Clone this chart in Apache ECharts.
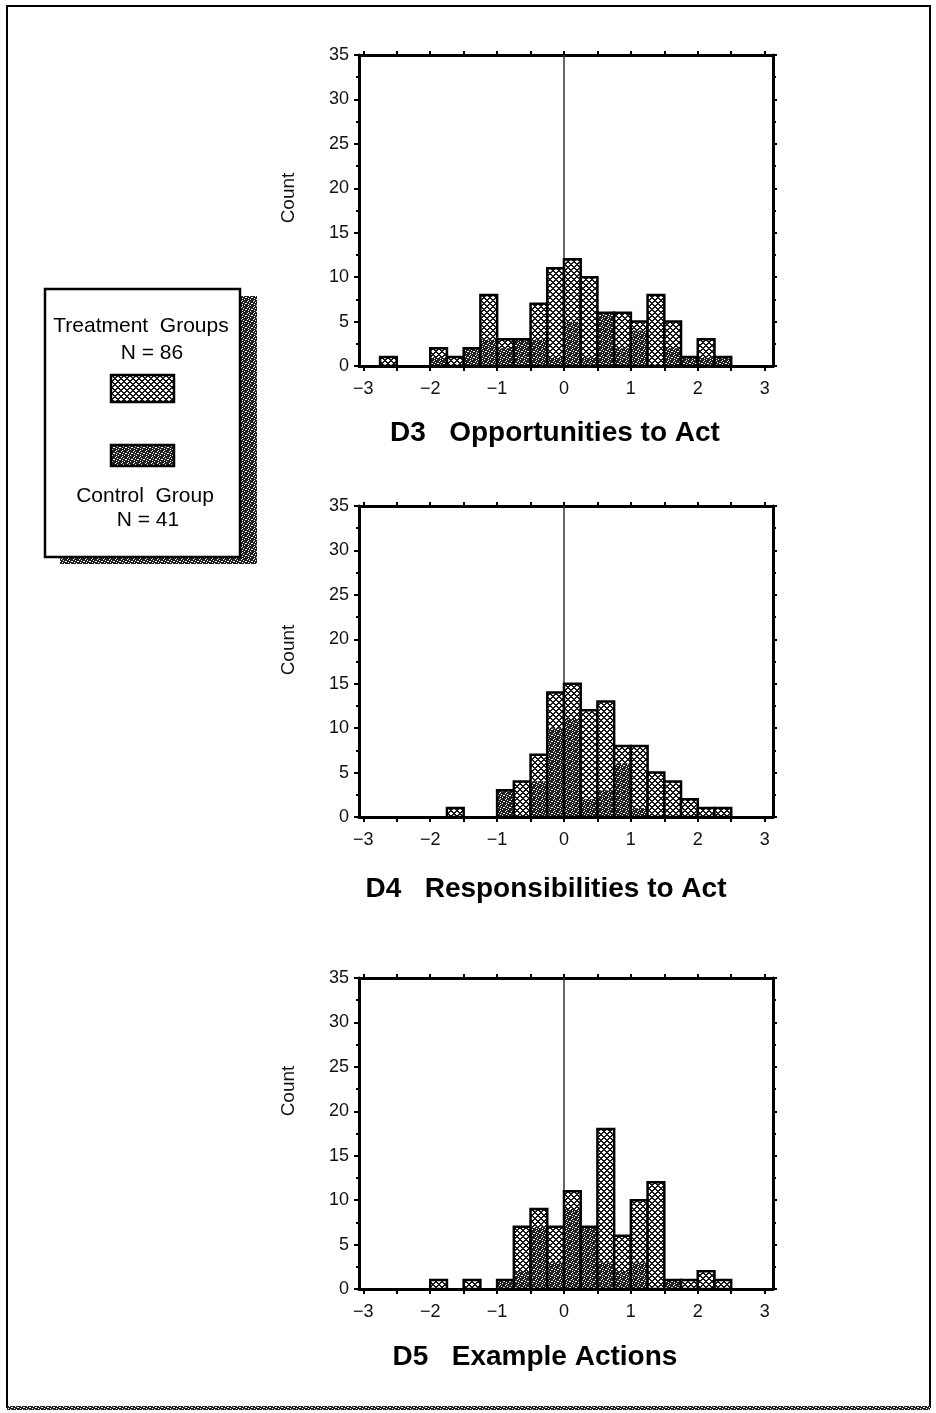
<!DOCTYPE html>
<html>
<head>
<meta charset="utf-8">
<script src="https://cdn.jsdelivr.net/npm/echarts@6/dist/echarts.min.js"></script>
<style>
  html, body { margin: 0; padding: 0; background: #fff; }
  #chart { width: 936px; height: 1413px; }
</style>
</head>
<body>
<div id="chart"></div>
<script>
// Histogram bins: left edges, width 0.25
const binWidth = 0.25;
const binStart = [-3, -2.75, -2.5, -2.25, -2, -1.75, -1.5, -1.25, -1, -0.75, -0.5, -0.25,
                  0, 0.25, 0.5, 0.75, 1, 1.25, 1.5, 1.75, 2, 2.25, 2.5, 2.75];

// Counts per bin (treatment groups N = 86, control group N = 41)
const d3Treatment = [0, 1, 0, 0, 2, 1, 1, 8, 3, 2, 7, 11, 12, 10, 5, 6, 5, 8, 5, 1, 3, 1, 0, 0];
const d3Control   = [0, 0, 0, 0, 1, 0, 2, 3, 2, 3, 3, 1, 5, 1, 6, 2, 4, 0, 2, 1, 1, 1, 0, 0];

const d4Treatment = [0, 0, 0, 0, 0, 1, 0, 0, 2, 4, 7, 14, 15, 12, 13, 8, 8, 5, 4, 2, 1, 1, 0, 0];
const d4Control   = [0, 0, 0, 0, 0, 0, 0, 0, 3, 0, 4, 10, 11, 2, 3, 6, 1, 0, 0, 0, 0, 0, 0, 0];

const d5Treatment = [0, 0, 0, 0, 1, 0, 1, 0, 1, 7, 9, 7, 11, 6, 18, 6, 10, 12, 1, 1, 2, 1, 0, 0];
const d5Control   = [0, 0, 0, 0, 0, 0, 0, 0, 1, 2, 7, 3, 9, 7, 3, 2, 3, 0, 1, 0, 0, 0, 0, 0];

const panelTitles = ['D3   Opportunities to Act', 'D4   Responsibilities to Act', 'D5   Example Actions'];
const xLabelValues = [-3, -2, -1, 0, 1, 2, 3];
const xTickValues = [-3, -2.5, -2, -1.5, -1, -0.5, 0, 0.5, 1, 1.5, 2, 2.5, 3];
const yMax = 35;
const yStep = 5;

const legendTreatment = ['Treatment  Groups', 'N = 86'];
const legendControl = ['Control  Group', 'N = 41'];

// ---- fill textures ----
function makeTile(rows, ink) {
  const c = document.createElement('canvas');
  c.width = rows[0].length;
  c.height = rows.length;
  const ctx = c.getContext('2d');
  ctx.fillStyle = '#fff';
  ctx.fillRect(0, 0, c.width, c.height);
  ctx.fillStyle = ink;
  rows.forEach((r, y) => {
    for (let x = 0; x < r.length; x++) if (r[x] === '#') ctx.fillRect(x, y, 1, 1);
  });
  return c;
}
// cross-hatch with small white diamonds
const treatFill = {
  image: makeTile(['##....', '###..#', '..####', '...##.', '..####', '###..#'], '#1a1a1a'),
  repeat: 'repeat'
};
// dense dark stipple
const ctrlFill = {
  image: makeTile(['##.###', '#.####', '###.##', '.####.', '##.###', '####.#'], '#222'),
  repeat: 'repeat'
};

const FONT = '"Liberation Sans", Arial, Helvetica, sans-serif';

// ---- layout of the three panels ----
const gridLeft = 359, gridWidth = 414, gridHeight = 311;
const gridTops = [55, 506, 978];
const xMin = -3.065, xMax = 3.125;

const panels = [
  { t: d3Treatment, c: d3Control },
  { t: d4Treatment, c: d4Control },
  { t: d5Treatment, c: d5Control }
];

function renderBins(params, api) {
  const x0 = api.value(0);
  const t = api.value(1);
  const c = api.value(2);
  const x1 = x0 + binWidth;
  const box = (h) => {
    const p0 = api.coord([x0, h]);
    const p1 = api.coord([x1, 0]);
    return { x: p0[0], y: p0[1], width: p1[0] - p0[0], height: p1[1] - p0[1] };
  };
  const children = [];
  if (t > 0) children.push({ type: 'rect', shape: box(t), style: { fill: treatFill } });
  if (c > 0) children.push({ type: 'rect', shape: box(c), style: { fill: ctrlFill } });
  const top = Math.max(t, c);
  if (top > 0) children.push({ type: 'rect', shape: box(top), style: { fill: 'none', stroke: '#000', lineWidth: 2.5 } });
  return { type: 'group', children };
}

const grids = [], xAxes = [], yAxes = [], series = [];
const axisLineStyle = { color: '#000', width: 3 };

panels.forEach((p, i) => {
  grids.push({ left: gridLeft, top: gridTops[i], width: gridWidth, height: gridHeight });
  // bottom axis with labels
  xAxes.push({
    type: 'value', gridIndex: i, position: 'bottom', min: xMin, max: xMax,
    axisLine: { show: true, onZero: false, lineStyle: axisLineStyle },
    axisTick: { show: true, customValues: xTickValues, length: 5, lineStyle: { color: '#000', width: 2 } },
    axisLabel: {
      show: true, customValues: xLabelValues, margin: 14,
      fontFamily: FONT, fontSize: 18, color: '#111',
      formatter: v => String(v).replace('-', '\u2212')
    },
    splitLine: { show: false }
  });
  // top frame
  xAxes.push({
    type: 'value', gridIndex: i, position: 'top', min: xMin, max: xMax,
    axisLine: { show: true, onZero: false, lineStyle: axisLineStyle },
    axisTick: { show: true, customValues: xTickValues, length: 4, lineStyle: { color: '#000', width: 2 } },
    axisLabel: { show: false },
    splitLine: { show: false }
  });
  // left axis with labels
  yAxes.push({
    type: 'value', gridIndex: i, position: 'left', min: 0, max: yMax, interval: yStep,
    axisLine: { show: true, onZero: false, lineStyle: axisLineStyle },
    axisTick: { show: true, length: 5, lineStyle: { color: '#000', width: 2 } },
    minorTick: { show: true, splitNumber: 2, length: 3, lineStyle: { color: '#000', width: 2 } },
    axisLabel: { show: true, margin: 10, fontFamily: FONT, fontSize: 18, color: '#111' },
    splitLine: { show: false }
  });
  // right frame
  yAxes.push({
    type: 'value', gridIndex: i, position: 'right', min: 0, max: yMax, interval: yStep,
    axisLine: { show: true, onZero: false, lineStyle: axisLineStyle },
    axisTick: { show: true, length: 4, lineStyle: { color: '#000', width: 2 } },
    minorTick: { show: true, splitNumber: 2, length: 3, lineStyle: { color: '#000', width: 2 } },
    axisLabel: { show: false },
    splitLine: { show: false }
  });

  // zero reference line
  series.push({
    type: 'line', xAxisIndex: 2 * i, yAxisIndex: 2 * i, z: 1, silent: true,
    showSymbol: false, symbol: 'none',
    data: [[0, 0], [0, yMax]],
    lineStyle: { color: '#333', width: 1.5 }
  });
  // histogram bars
  series.push({
    type: 'custom', xAxisIndex: 2 * i, yAxisIndex: 2 * i, z: 2, silent: true,
    renderItem: renderBins,
    encode: { x: 0, y: [1, 2] },
    data: binStart.map((x, k) => [x, p.t[k], p.c[k]])
  });
});

// ---- titles, axis names, legend box, page frame ----
const titleCenters = [[555, 433], [546, 889], [535, 1357]];
const countCenters = [[289, 198], [289, 650], [289, 1091]];

const graphics = [];
graphics.push({
  type: 'rect', z: 0, shape: { x: 7, y: 6, width: 923, height: 1401 },
  style: { fill: 'none', stroke: '#000', lineWidth: 2 }
});
graphics.push({
  type: 'rect', z: 0, shape: { x: 7, y: 1406, width: 923, height: 4 },
  style: { fill: ctrlFill }
});

panelTitles.forEach((t, i) => {
  graphics.push({
    type: 'text', x: titleCenters[i][0], y: titleCenters[i][1],
    style: { text: t, fontFamily: FONT, fontWeight: 'bold', fontSize: 28, fill: '#000',
             textAlign: 'center', textVerticalAlign: 'middle' }
  });
  graphics.push({
    type: 'text', x: countCenters[i][0], y: countCenters[i][1], rotation: Math.PI / 2,
    style: { text: 'Count', fontFamily: FONT, fontSize: 19, fill: '#111',
             textAlign: 'center', textVerticalAlign: 'middle' }
  });
});

// legend card with drop shadow
graphics.push({ type: 'rect', shape: { x: 241, y: 296, width: 16, height: 268 }, style: { fill: ctrlFill } });
graphics.push({ type: 'rect', shape: { x: 60, y: 557, width: 197, height: 7 }, style: { fill: ctrlFill } });
graphics.push({
  type: 'rect', shape: { x: 45, y: 289, width: 195, height: 268 },
  style: { fill: '#fff', stroke: '#000', lineWidth: 2.5 }
});
const legendText = (txt, x, y) => ({
  type: 'text', x, y,
  style: { text: txt, fontFamily: FONT, fontSize: 21, fill: '#000', textAlign: 'center', textVerticalAlign: 'middle' }
});
graphics.push(legendText(legendTreatment[0], 141, 326));
graphics.push(legendText(legendTreatment[1], 152, 353));
graphics.push({
  type: 'rect', shape: { x: 111, y: 375, width: 63, height: 27 },
  style: { fill: treatFill, stroke: '#000', lineWidth: 2.5 }
});
graphics.push({
  type: 'rect', shape: { x: 111, y: 445, width: 63, height: 21 },
  style: { fill: ctrlFill, stroke: '#000', lineWidth: 2.5 }
});
graphics.push(legendText(legendControl[0], 145, 496));
graphics.push(legendText(legendControl[1], 148, 520));

const chart = echarts.init(document.getElementById('chart'), null, { renderer: 'canvas' });
chart.setOption({
  animation: false,
  backgroundColor: '#fff',
  grid: grids,
  xAxis: xAxes,
  yAxis: yAxes,
  series: series,
  graphic: graphics
});
</script>
</body>
</html>
